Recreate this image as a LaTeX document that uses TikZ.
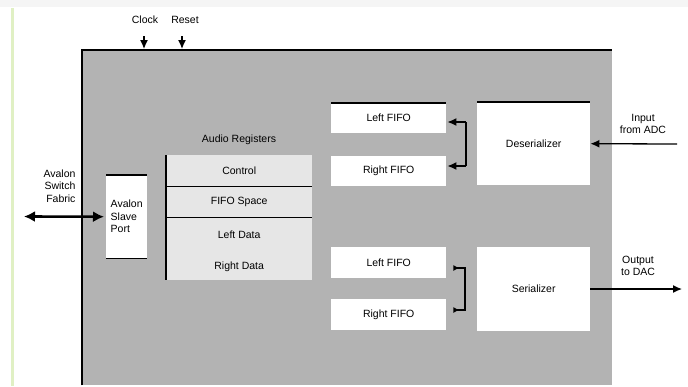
\documentclass[tikz,border=0pt]{standalone}
\usepackage{fontspec}
\setmainfont{Liberation Sans}
\usetikzlibrary{positioning, arrows.meta, calc}
\definecolor{chipgray}{RGB}{179,179,179}
\definecolor{reggray}{RGB}{230,230,230}
\definecolor{marginline}{RGB}{224,240,196}

\begin{document}
\begin{tikzpicture}[x=1pt, y=-1pt, font=\fontsize{10.5}{12.5}\selectfont,
  blk/.style={fill=white, inner sep=0pt, align=center, anchor=north west},
  reg/.style={fill=reggray, minimum width=146pt, inner sep=0pt, anchor=north west},
  sig/.style={-{Latex[length=9pt, width=8pt]}, line width=1.3pt},
  bus/.style={{Latex[length=11pt, width=11pt]}-{Latex[length=11pt, width=11pt]}, line width=2.6pt}]
\useasboundingbox (0,0) rectangle (688,386);
\fill[black!4] (0,0) rectangle (688,7);
\draw[marginline, line width=3pt] (12,8) -- (12,386);

% Chip
\node[fill=chipgray, minimum width=530pt, minimum height=335pt, inner sep=0pt, anchor=north west] (chip) at (82,50) {};
\draw[line width=1.6pt] (chip.south west) -- (chip.north west) -- (chip.north east);

% Clock and reset
\node (clk) at (145,20) {Clock};
\node (rst) at (185,20) {Reset};
\draw[sig] (144,36) -- (144,49);
\draw[sig] (182,36) -- (182,49);

% Avalon side
\node[align=right, anchor=east] (fabric) at (79,186) {Avalon\\Switch\\Fabric};
\node[blk, minimum width=41pt, minimum height=83pt, align=left] (port) at (106,175) {Avalon\\Slave\\Port};
\draw[line width=1.4pt] (port.north west) -- (port.north east);
\draw[line width=1.4pt] (port.south west) -- (port.south east);
\coordinate (fab) at (24,216.5);
\draw[bus] (fab) -- ([xshift=-2pt]port.west);

% Registers
\node (reglabel) at (239,140) {Audio Registers};
\node[reg, minimum height=31pt] (ctrl) at (166,155) {Control};
\node[reg, minimum height=31pt] (space) at (166,186) {FIFO Space};
\node[reg, minimum height=63pt] (data) at (166,217) {};
\node (ldata) at ($(data.north)+(0,18)$) {Left Data};
\node (rdata) at ($(data.north)+(0,50)$) {Right Data};
\draw[line width=1.4pt] (ctrl.north west) -- (data.south west);
\draw[line width=1.4pt] (ctrl.south west) -- (ctrl.south east);
\draw[line width=1.4pt] (space.south west) -- (space.south east);

% Receive path
\node[blk, minimum width=115pt, minimum height=30pt] (lfifoin) at (331,103) {Left FIFO};
\node[blk, minimum width=115pt, minimum height=30pt] (rfifoin) at (331,156) {Right FIFO};
\node[blk, minimum width=113pt, minimum height=83pt] (deser) at (477,102) {Deserializer};
\draw[line width=1.4pt] (lfifoin.north west) -- (lfifoin.north east);
\draw[line width=1.4pt] (deser.north west) -- (deser.north east);
\coordinate (dtop) at (466,122);
\coordinate (dbot) at (466,166);
\draw[line width=1.2pt] (dtop) -- (dbot);
\draw[sig, shorten >=1pt] (dtop) -- (lfifoin.east |- dtop);
\draw[sig, shorten >=1pt] (dbot) -- (rfifoin.east |- dbot);
\coordinate (adc) at (677,144);
\node[align=center] (adclabel) at (643,124) {Input\\from ADC};
\draw[sig] (adc) -- (deser.east);

% Transmit path
\node[blk, minimum width=115pt, minimum height=31pt] (lfifoout) at (331,247) {Left FIFO};
\node[blk, minimum width=115pt, minimum height=31pt] (rfifoout) at (331,299) {Right FIFO};
\node[blk, minimum width=113pt, minimum height=84pt] (ser) at (477,247) {Serializer};
\coordinate (stop) at (465,268);
\coordinate (sbot) at (465,310);
\draw[{Latex[reversed, length=6pt, width=6pt]}-{Latex[reversed, length=6pt, width=6pt]}, line width=1.2pt, shorten <=7pt, shorten >=7pt]
  (lfifoout.east |- stop) -- (stop) -- (sbot) -- (rfifoout.east |- sbot);
\coordinate (dac) at (682,289);
\node[align=center] (daclabel) at (638,266) {Output\\to DAC};
\draw[sig] (ser.east |- dac) -- (dac);
\end{tikzpicture}
\end{document}
